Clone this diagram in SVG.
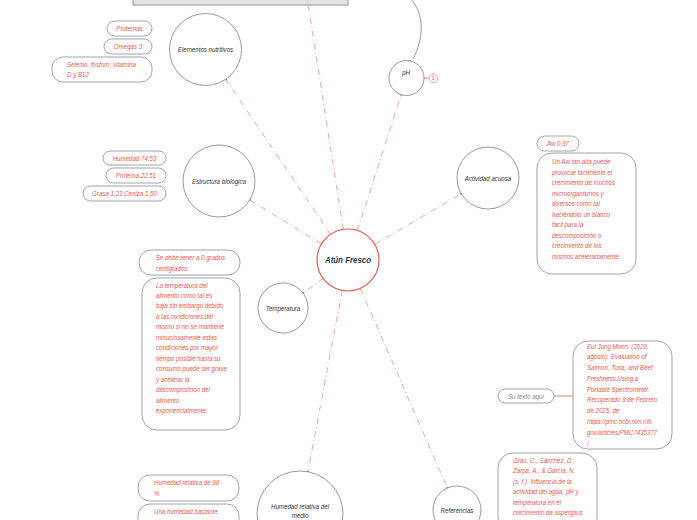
<svg xmlns="http://www.w3.org/2000/svg" width="697" height="520" viewBox="0 0 697 520">
<style>
.bg{fill:#ffffff}
.node{fill:#ffffff;stroke:#999999;stroke-width:1}
.main{fill:#ffffff;stroke:#e8574a;stroke-width:1.2}
.box{fill:#ffffff;stroke:#999999;stroke-width:0.9}
.t{font-family:"Liberation Sans",Arial,sans-serif;font-style:italic;font-size:7.5px}
.red{fill:#e9574b}
.lbl{fill:#333333;text-anchor:middle}
.gray{fill:#888888}
.mid{text-anchor:middle}
.conn{fill:none;stroke:#f4a49b;stroke-width:1;stroke-dasharray:6 3 1 3}
</style>
<defs>
<marker id="dot" viewBox="0 0 4 4" refX="2" refY="2" markerWidth="3" markerHeight="3">
<circle cx="2" cy="2" r="1.5" fill="#e9574b"/>
</marker>
</defs>
<rect class="bg" x="0" y="0" width="697" height="520"/>

<g id="top-bar">
<rect x="133" y="-3" width="215" height="8" fill="#e2e5e7" stroke="#8f959a" stroke-width="1"/>
</g>

<g id="connectors">
<line class="conn" x1="330.6" y1="234.3" x2="225.7" y2="79.3" marker-end="url(#dot)"/>
<line class="conn" x1="343.3" y1="229.4" x2="307.5" y2="0"/>
<line class="conn" x1="357.5" y1="230.5" x2="401.1" y2="94.7" marker-end="url(#dot)"/>
<line class="conn" x1="374.8" y1="244.3" x2="461.2" y2="193.7" marker-end="url(#dot)"/>
<line class="conn" x1="321.6" y1="243.8" x2="249.7" y2="199.8" marker-end="url(#dot)"/>
<line class="conn" x1="323.1" y1="278.4" x2="303.1" y2="293.1" marker-end="url(#dot)"/>
<line class="conn" x1="342.2" y1="290.5" x2="308" y2="471.7" marker-end="url(#dot)"/>
<line class="conn" x1="360.4" y1="288.4" x2="447.4" y2="488" marker-end="url(#dot)"/>
<path d="M413 59 C423 40 426 15 410 -2" fill="none" stroke="#999999" stroke-width="1"/>
<line x1="424" y1="78.3" x2="429.3" y2="78.3" stroke="#f4a49b" stroke-width="1.5"/>
<line x1="554" y1="396" x2="573" y2="396" stroke="#f4a49b" stroke-width="1.5"/>
</g>

<g id="atun-fresco">
<circle class="main" cx="348" cy="260" r="31"/>
<g transform="translate(348,263) scale(0.88,1)"><text class="t mid" x="0" y="0" style="font-size:9px;font-weight:bold;fill:#1f3a52">Atún Fresco</text></g>
</g>

<g id="elementos-nutritivos">
<circle class="node" cx="205.5" cy="49.5" r="36"/>
<g transform="translate(205.5,52) scale(0.82,1)"><text class="t lbl" x="0" y="0">Elementos nutritivos</text></g>
</g>

<g id="ph">
<circle class="node" cx="406.5" cy="78" r="17.5"/>
<g transform="translate(406,75) scale(0.85,1)"><text class="t lbl" x="0" y="0">pH</text></g>
<circle cx="433.5" cy="78.3" r="4.2" fill="#ffffff" stroke="#f4a49b" stroke-width="1"/>
<text class="t mid" x="433.5" y="80.3" style="font-size:5px;font-style:normal;fill:#e9574b">2</text>
</g>

<g id="estructura-biologica">
<circle class="node" cx="219" cy="181" r="36"/>
<g transform="translate(219,183.5) scale(0.82,1)"><text class="t lbl" x="0" y="0">Estructura biológica</text></g>
</g>

<g id="actividad-acuosa">
<circle class="node" cx="488" cy="178" r="31"/>
<g transform="translate(488,180.5) scale(0.82,1)"><text class="t lbl" x="0" y="0">Actividad acuosa</text></g>
</g>

<g id="temperatura">
<circle class="node" cx="283" cy="308" r="25"/>
<g transform="translate(283,310.5) scale(0.82,1)"><text class="t lbl" x="0" y="0">Temperatura</text></g>
</g>

<g id="humedad-relativa">
<circle class="node" cx="300" cy="514" r="43"/>
<g transform="translate(300,508.5) scale(0.82,1)"><text class="t lbl" x="0" y="0">Humedad relativa del</text><text class="t lbl" x="0" y="9.5">medio</text></g>
</g>

<g id="referencias">
<circle class="node" cx="457" cy="510" r="24"/>
<g transform="translate(457,512.5) scale(0.82,1)"><text class="t lbl" x="0" y="0">Referencias</text></g>
</g>

<g id="box-proteinas">
<rect class="box" x="107" y="21" width="45" height="15" rx="7.5"/>
<g transform="translate(129.5,31) scale(0.82,1)"><text class="t red mid" x="0" y="0">Proteínas</text></g>
</g>
<g id="box-omegas">
<rect class="box" x="104" y="39" width="48" height="15" rx="7.5"/>
<g transform="translate(128,49) scale(0.82,1)"><text class="t red mid" x="0" y="0">Omegas 3</text></g>
</g>
<g id="box-selenio">
<rect class="box" x="52" y="57" width="100" height="25" rx="11"/>
<g transform="translate(67,67) scale(0.82,1)"><text class="t red" x="0" y="0">Selenio, fosforo, vitamina</text><text class="t red" x="0" y="10.5">D y B12</text></g>
</g>

<g id="box-humedad-74">
<rect class="box" x="103" y="151" width="63" height="14" rx="7"/>
<g transform="translate(134.5,160.5) scale(0.82,1)"><text class="t red mid" x="0" y="0">Humedad 74,53</text></g>
</g>
<g id="box-proteina-22">
<rect class="box" x="106" y="168" width="60" height="15" rx="7.5"/>
<g transform="translate(136,178) scale(0.82,1)"><text class="t red mid" x="0" y="0">Proteína 22,51</text></g>
</g>
<g id="box-grasa">
<rect class="box" x="83" y="186" width="83" height="15" rx="7.5"/>
<g transform="translate(124.5,196) scale(0.82,1)"><text class="t red mid" x="0" y="0">Grasa 1,23 Ceniza 1,50</text></g>
</g>

<g id="box-aw">
<rect class="box" x="537" y="136" width="42" height="15" rx="7.5"/>
<g transform="translate(558,146) scale(0.82,1)"><text class="t red mid" x="0" y="0">Aw 0,97</text></g>
</g>
<g id="box-aw-texto">
<rect class="box" x="537" y="153" width="99" height="121" rx="15"/>
<g transform="translate(552,164.2) scale(0.82,1)">
<text class="t red" x="0" y="0">Un Aw tan alta puede</text>
<text class="t red" x="0" y="10.5">provocar fácilmente el</text>
<text class="t red" x="0" y="21">crecimiento de muchos</text>
<text class="t red" x="0" y="31.5">microorganismos y</text>
<text class="t red" x="0" y="42">diversos como tal</text>
<text class="t red" x="0" y="52.5">haciéndolo un blanco</text>
<text class="t red" x="0" y="63">fácil para la</text>
<text class="t red" x="0" y="73.5">descomposición o</text>
<text class="t red" x="0" y="84">crecimiento de los</text>
<text class="t red" x="0" y="94.5">mismos aceleradamente.</text>
</g>
</g>

<g id="box-0-grados">
<rect class="box" x="139" y="250" width="101" height="25" rx="12"/>
<g transform="translate(155.7,260.2) scale(0.82,1)"><text class="t red" x="0" y="0">Se debe tener a 0 grados</text><text class="t red" x="0" y="10.5">centigrados</text></g>
</g>
<g id="box-temperatura-texto">
<rect class="box" x="142" y="278" width="98" height="152" rx="15"/>
<g transform="translate(156,287.5) scale(0.82,1)">
<text class="t red" x="0" y="0">La temperatura del</text>
<text class="t red" x="0" y="10.5">alimento como tal es</text>
<text class="t red" x="0" y="21">baja sin embargo debido</text>
<text class="t red" x="0" y="31.5">a las condiciones del</text>
<text class="t red" x="0" y="42">mismo si no se mantiene</text>
<text class="t red" x="0" y="52.5">minuciosamente estas</text>
<text class="t red" x="0" y="63">condiciones por mayor</text>
<text class="t red" x="0" y="73.5">tiempo posible hasta su</text>
<text class="t red" x="0" y="84">consumo puede ser grave</text>
<text class="t red" x="0" y="94.5">y acelerar la</text>
<text class="t red" x="0" y="105">descomposición del</text>
<text class="t red" x="0" y="115.5">alimento</text>
<text class="t red" x="0" y="126">exponencialmente.</text>
</g>
</g>

<g id="box-su-texto">
<rect class="box" x="498" y="389" width="56" height="14" rx="7"/>
<g transform="translate(526,398.5) scale(0.82,1)"><text class="t gray mid" x="0" y="0">Su texto aquí</text></g>
</g>
<g id="box-ref-moon">
<rect class="box" x="573" y="341" width="99" height="108" rx="15"/>
<g transform="translate(587,348.5) scale(0.82,1)">
<text class="t red" x="0" y="0">Eui Jung Moon. (2020,</text>
<text class="t red" x="0" y="10.8">agosto). Evaluation of</text>
<text class="t red" x="0" y="21.6">Salmon, Tuna, and Beef</text>
<text class="t red" x="0" y="32.4">Freshness Using a</text>
<text class="t red" x="0" y="43.2">Portable Spectrometer.</text>
<text class="t red" x="0" y="54">Recuperado 9 de Febrero</text>
<text class="t red" x="0" y="64.8">de 2025, de</text>
<text class="t red" x="0" y="75.6">https://pmc.ncbi.nlm.nih.</text>
<text class="t red" x="0" y="86.4">gov/articles/PMC7435377</text>
<text class="t red" x="0" y="97.2">/</text>
</g>
</g>
<g id="box-ref-grau">
<rect class="box" x="498" y="453" width="99" height="80" rx="15"/>
<g transform="translate(513,463) scale(0.82,1)">
<text class="t red" x="0" y="0">Graú, C., Sánchez, D.,</text>
<text class="t red" x="0" y="10.4">Zarpa, A., &amp; García, N.</text>
<text class="t red" x="0" y="20.8">(s. f.). Influencia de la</text>
<text class="t red" x="0" y="31.2">actividad del agua, pH y</text>
<text class="t red" x="0" y="41.6">temperatura en el</text>
<text class="t red" x="0" y="52">crecimiento de aspergilus</text>
</g>
</g>

<g id="box-humedad-98">
<rect class="box" x="138" y="475" width="101" height="26" rx="12"/>
<g transform="translate(154,485) scale(0.82,1)"><text class="t red" x="0" y="0">Humedad relativa de 98</text><text class="t red" x="0" y="10.6">%</text></g>
</g>
<g id="box-humedad-texto">
<rect class="box" x="138" y="504" width="101" height="30" rx="12"/>
<g transform="translate(154,514) scale(0.82,1)"><text class="t red" x="0" y="0">Una humedad bastante</text></g>
</g>
</svg>
